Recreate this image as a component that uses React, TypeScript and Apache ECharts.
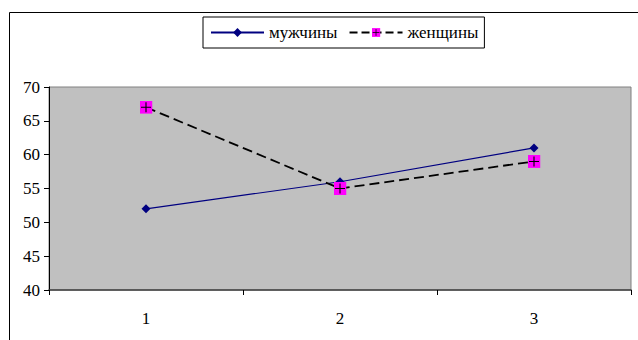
import React, { useEffect, useRef } from "react";
import * as echarts from "echarts";

const categories = ["1", "2", "3"];
const menValues = [52, 56, 61];
const womenValues = [67, 55, 59];
const seriesNames = ["мужчины", "женщины"];
const yTicks = { min: 40, max: 70, interval: 5 };

const squareSvg =
  "<svg xmlns='http://www.w3.org/2000/svg' width='26' height='26' viewBox='0 0 13 13'>" +
  "<rect width='13' height='13' fill='#FF00FF'/>" +
  "<path d='M6.5 1.5V11.5M1.5 6.5H11.5' stroke='#000' stroke-width='1.1'/></svg>";
const squareSymbol = "image://data:image/svg+xml;charset=utf-8," + encodeURIComponent(squareSvg);

export default function App() {
  const ref = useRef<HTMLDivElement>(null);
  useEffect(() => {
    const chart = echarts.init(ref.current!, null, { renderer: "svg" });
    const font = "Liberation Serif";
    chart.setOption({
      animation: false,
      backgroundColor: "#ffffff",
      textStyle: { fontFamily: font },
      graphic: [
        {
          type: "rect",
          shape: { x: 9.5, y: 12.5, width: 700, height: 400 },
          style: { fill: "none", stroke: "#000", lineWidth: 1 },
          silent: true,
          z: -1,
        },
      ],
      legend: {
        data: [
          { name: seriesNames[0] },
          { name: seriesNames[1], lineStyle: { type: [8, 4], width: 2 } },
        ],
        left: 203,
        top: 17,
        padding: [7, 6, 7, 7],
        itemWidth: 53,
        itemHeight: 11,
        itemGap: 11,
        borderColor: "#000",
        borderWidth: 1,
        textStyle: { fontFamily: font, fontSize: 17, color: "#000" },
      },
      grid: {
        left: 49,
        right: 7,
        top: 87,
        bottom: 50,
        show: true,
        backgroundColor: "#c0c0c0",
        borderColor: "#808080",
        borderWidth: 1,
      },
      xAxis: {
        type: "category",
        data: categories,
        boundaryGap: true,
        axisLine: { lineStyle: { color: "#404040", width: 1.5 } },
        axisTick: { show: true, length: 5, lineStyle: { color: "#000" } },
        axisLabel: { margin: 20, fontSize: 17, color: "#000", fontFamily: font },
        splitLine: { show: false },
      },
      yAxis: {
        type: "value",
        min: yTicks.min,
        max: yTicks.max,
        interval: yTicks.interval,
        axisLine: { show: true, lineStyle: { color: "#000", width: 1 } },
        axisTick: { show: true, length: 5, lineStyle: { color: "#000" } },
        axisLabel: { margin: 9, fontSize: 17, color: "#000", fontFamily: font },
        splitLine: { show: false },
      },
      series: [
        {
          name: seriesNames[0],
          type: "line",
          data: menValues,
          symbol: "diamond",
          symbolSize: 9,
          itemStyle: { color: "#000080" },
          lineStyle: { color: "#000080", width: 1.2 },
        },
        {
          name: seriesNames[1],
          type: "line",
          data: womenValues,
          symbol: squareSymbol,
          symbolSize: 13,
          itemStyle: { color: "#FF00FF" },
          lineStyle: { color: "#000", width: 1.8, type: [10, 5] },
        },
      ],
    });
    return () => chart.dispose();
  }, []);
  return (
    <div
      ref={ref}
      style={{ position: "absolute", left: 0, top: 0, width: 638, height: 340 }}
    />
  );
}
